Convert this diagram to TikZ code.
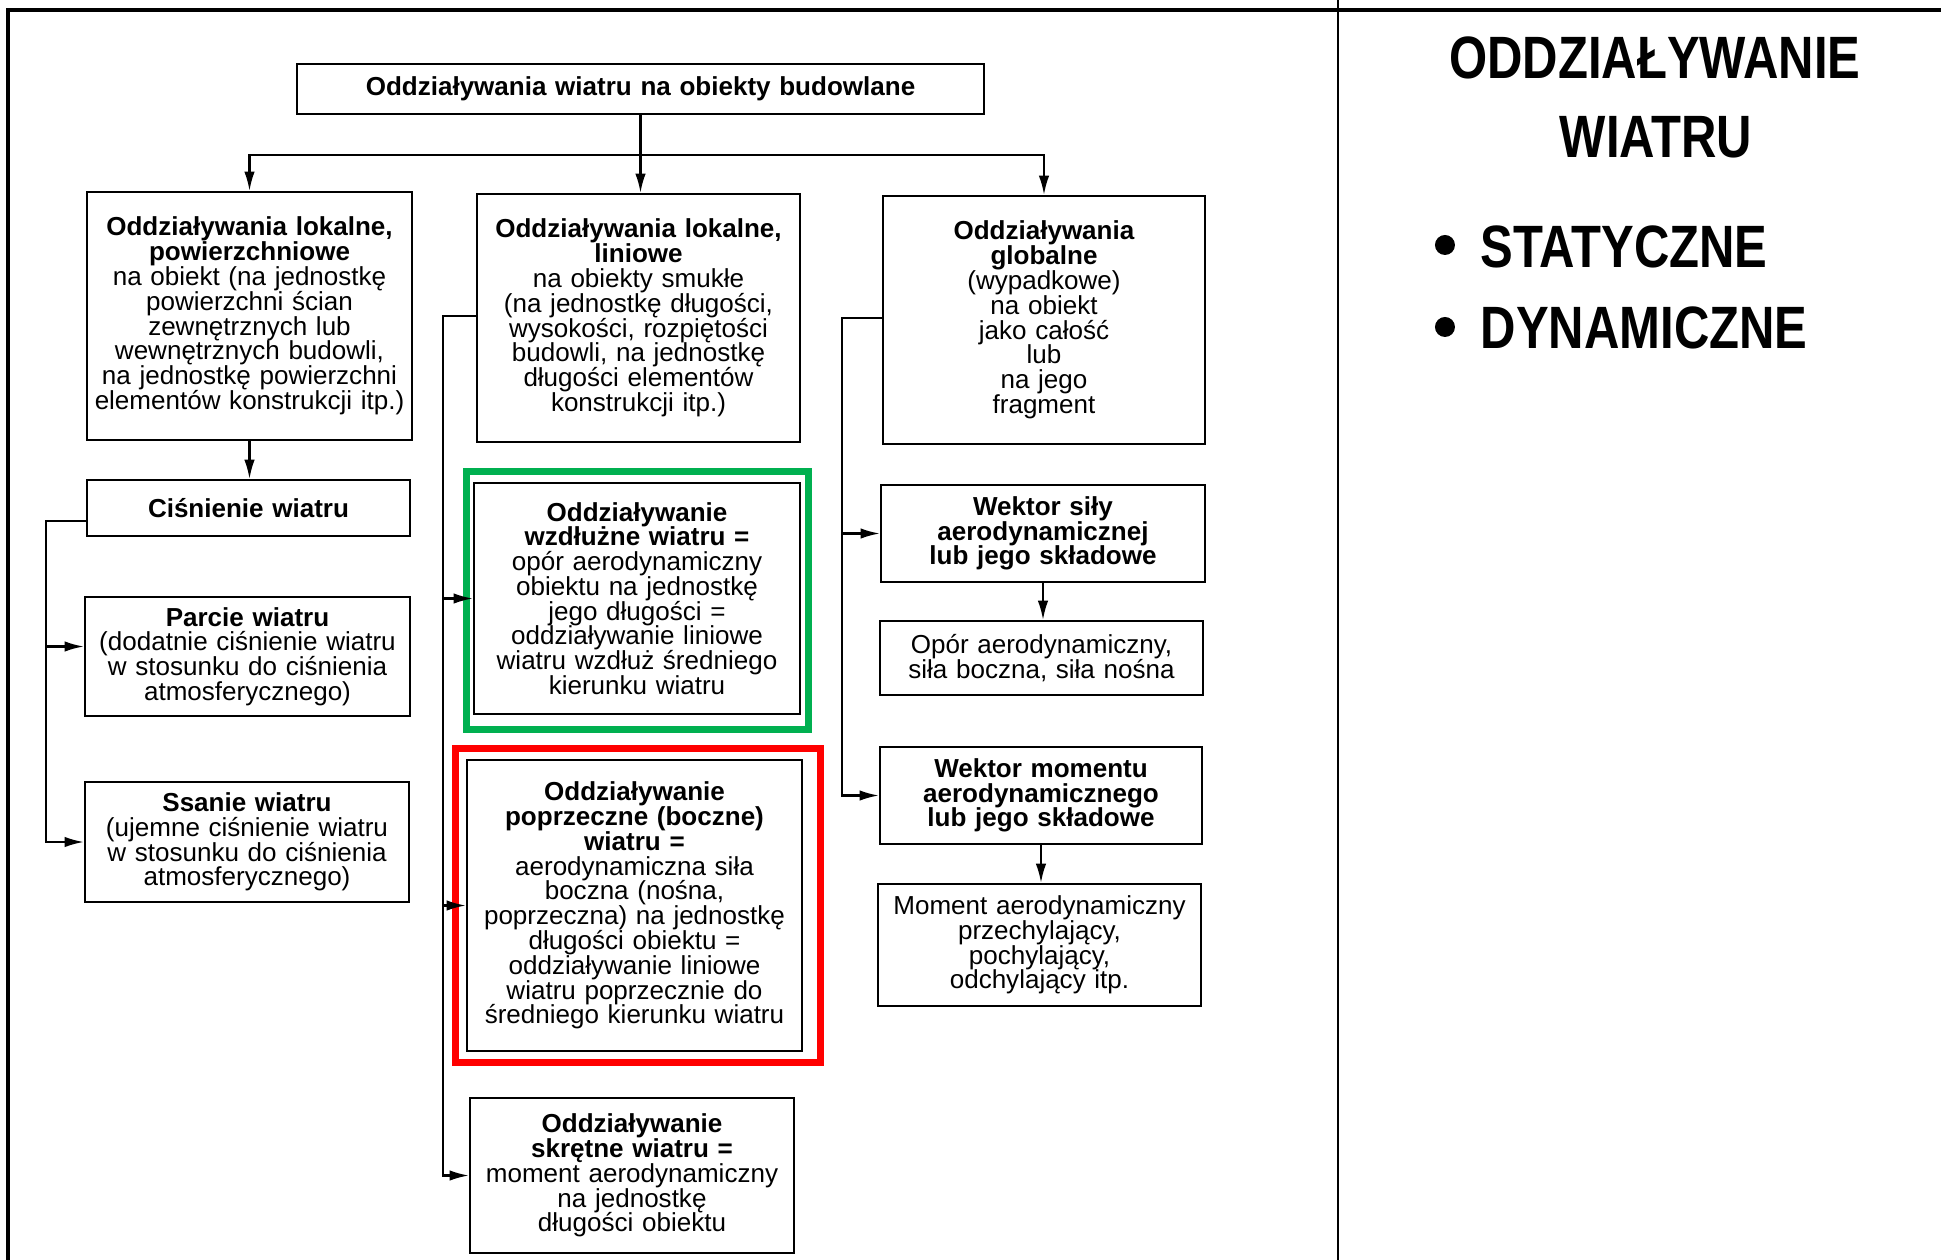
\documentclass[tikz,border=0pt]{standalone}
\usepackage{fontspec}
\setmainfont{Liberation Sans}
\newfontfamily\titlefont{Liberation Sans}[FakeStretch=0.82]
\usepackage{xcolor}
\usetikzlibrary{arrows.meta}
\definecolor{framegreen}{RGB}{0,176,80}
\definecolor{framered}{RGB}{255,0,0}

\begin{document}
\begin{tikzpicture}[x=0.01cm, y=-0.01cm, >={Latex[length=5.5pt,width=3pt]},
    box/.style={draw, line width=0.6pt, align=center, inner sep=0pt, font=\fontsize{7.4}{7.05}\selectfont},
    conn/.style={line width=0.6pt},
    bigtxt/.style={font=\titlefont\bfseries\fontsize{17}{20}\selectfont, inner sep=0pt}]
    \useasboundingbox (0,0) rectangle (1941,1260);

    % Ramka slajdu
    \draw[line width=1.1pt] (8,1260) -- (8,10) -- (1941,10);
    \draw[line width=0.6pt] (1338,0) -- (1338,1260);

    % Gora
    \node[box, text width=6.87cm, minimum height=0.5cm] (top) at (640.5,89) {\textbf{Oddziaływania wiatru na obiekty budowlane}};

    % Trzy kolumny
    \node[box, text width=3.25cm, minimum height=2.48cm] (L1) at (249.5,316) {\textbf{Oddziaływania lokalne,}\\\textbf{powierzchniowe}\\na obiekt (na jednostkę\\powierzchni ścian\\zewnętrznych lub\\wewnętrznych budowli,\\na jednostkę powierzchni\\elementów konstrukcji itp.)};
    \node[box, text width=3.23cm, minimum height=2.48cm] (M1) at (638.5,318) {\textbf{Oddziaływania lokalne,}\\\textbf{liniowe}\\na obiekty smukłe\\(na jednostkę długości,\\wysokości, rozpiętości\\budowli, na jednostkę\\długości elementów\\konstrukcji itp.)};
    \node[box, text width=3.22cm, minimum height=2.48cm] (R1) at (1044,320) {\textbf{Oddziaływania}\\\textbf{globalne}\\(wypadkowe)\\na obiekt\\jako całość\\lub\\na jego\\fragment};

    % Lewa kolumna
    \node[box, text width=3.23cm, minimum height=0.56cm] (cis) at (248.5,508) {\textbf{Ciśnienie wiatru}};
    \node[box, text width=3.25cm, minimum height=1.19cm] (parcie) at (247.5,656.5) {\textbf{Parcie wiatru}\\(dodatnie ciśnienie wiatru\\w stosunku do ciśnienia\\atmosferycznego)};
    \node[box, text width=3.24cm, minimum height=1.2cm] (ssanie) at (247,842) {\textbf{Ssanie wiatru}\\(ujemne ciśnienie wiatru\\w stosunku do ciśnienia\\atmosferycznego)};

    % Srodkowa kolumna
    \node[box, text width=3.26cm, minimum height=2.31cm] (wzdl) at (637,598.5) {\textbf{Oddziaływanie}\\\textbf{wzdłużne wiatru =}\\opór aerodynamiczny\\obiektu na jednostkę\\jego długości =\\oddziaływanie liniowe\\wiatru wzdłuż średniego\\kierunku wiatru};
    \node[box, text width=3.35cm, minimum height=2.91cm] (poprz) at (634.5,905.5) {\textbf{Oddziaływanie}\\\textbf{poprzeczne (boczne)}\\\textbf{wiatru =}\\aerodynamiczna siła\\boczna (nośna,\\poprzeczna) na jednostkę\\długości obiektu =\\oddziaływanie liniowe\\wiatru poprzecznie do\\średniego kierunku wiatru};
    \node[box, text width=3.24cm, minimum height=1.55cm] (skret) at (632,1175.5) {\textbf{Oddziaływanie}\\\textbf{skrętne wiatru =}\\moment aerodynamiczny\\na jednostkę\\długości obiektu};

    % Prawa kolumna
    \node[box, text width=3.24cm, minimum height=0.97cm] (wsily) at (1043,533.5) {\textbf{Wektor siły}\\\textbf{aerodynamicznej}\\\textbf{lub jego składowe}};
    \node[box, text width=3.23cm, minimum height=0.74cm] (opor) at (1041.5,658) {Opór aerodynamiczny,\\siła boczna, siła nośna};
    \node[box, text width=3.22cm, minimum height=0.97cm] (wmom) at (1041,795.5) {\textbf{Wektor momentu}\\\textbf{aerodynamicznego}\\\textbf{lub jego składowe}};
    \node[box, text width=3.23cm, minimum height=1.22cm] (moment) at (1039.5,945) {Moment aerodynamiczny\\przechylający,\\pochylający,\\odchylający itp.};

    % Wyroznienia
    \draw[framegreen, line width=2pt] ([shift={(-0.065cm,0.105cm)}]wzdl.north west) rectangle ([shift={(0.075cm,-0.145cm)}]wzdl.south east);
    \draw[framered, line width=2pt] ([shift={(-0.105cm,0.105cm)}]poprz.north west) rectangle ([shift={(0.175cm,-0.105cm)}]poprz.south east);

    % Polaczenia
    \coordinate (tbus) at (640.5,155);
    \draw[conn] (top.south) -- (tbus);
    \draw[conn,->] (tbus) -| (L1.north);
    \draw[conn,->] (tbus) -- (tbus |- M1.north);
    \draw[conn,->] (tbus) -| (R1.north);

    \draw[conn,->] (L1.south) -- (L1.south |- cis.north);
    \coordinate (lbus) at (46,521);
    \coordinate (pin) at ([yshift=0.1cm]parcie.west);
    \draw[conn,->] (cis.west |- lbus) -- (lbus) |- (ssanie.west);
    \draw[conn,->] (lbus |- pin) -- (pin);

    \coordinate (mbus) at (443,316);
    \draw[conn,->] (M1.west |- mbus) -- (mbus) |- (skret.west);
    \draw[conn,->] (mbus |- wzdl.west) -- (wzdl.west);
    \draw[conn,->] (mbus |- poprz.west) -- (poprz.west);

    \coordinate (rbus) at (842,318);
    \draw[conn,->] (R1.west |- rbus) -- (rbus) |- (wmom.west);
    \draw[conn,->] (rbus |- wsily.west) -- (wsily.west);
    \draw[conn,->] (wsily.south) -- (wsily.south |- opor.north);
    \draw[conn,->] (wmom.south) -- (wmom.south |- moment.north);

    % Tytul
    \node[bigtxt, anchor=base] (title1) at (1655,78) {ODDZIAŁYWANIE};
    \node[bigtxt, anchor=base] (title2) at (1656,157) {WIATRU};
    \node[bigtxt, anchor=base west] (stat) at (1480,267) {STATYCZNE};
    \node[bigtxt, anchor=base west] (dyn) at (1480,348) {DYNAMICZNE};
    \fill ([xshift=-0.35cm,yshift=0.22cm]stat.base west) circle[radius=0.1cm];
    \fill ([xshift=-0.35cm,yshift=0.21cm]dyn.base west) circle[radius=0.1cm];
\end{tikzpicture}
\end{document}
